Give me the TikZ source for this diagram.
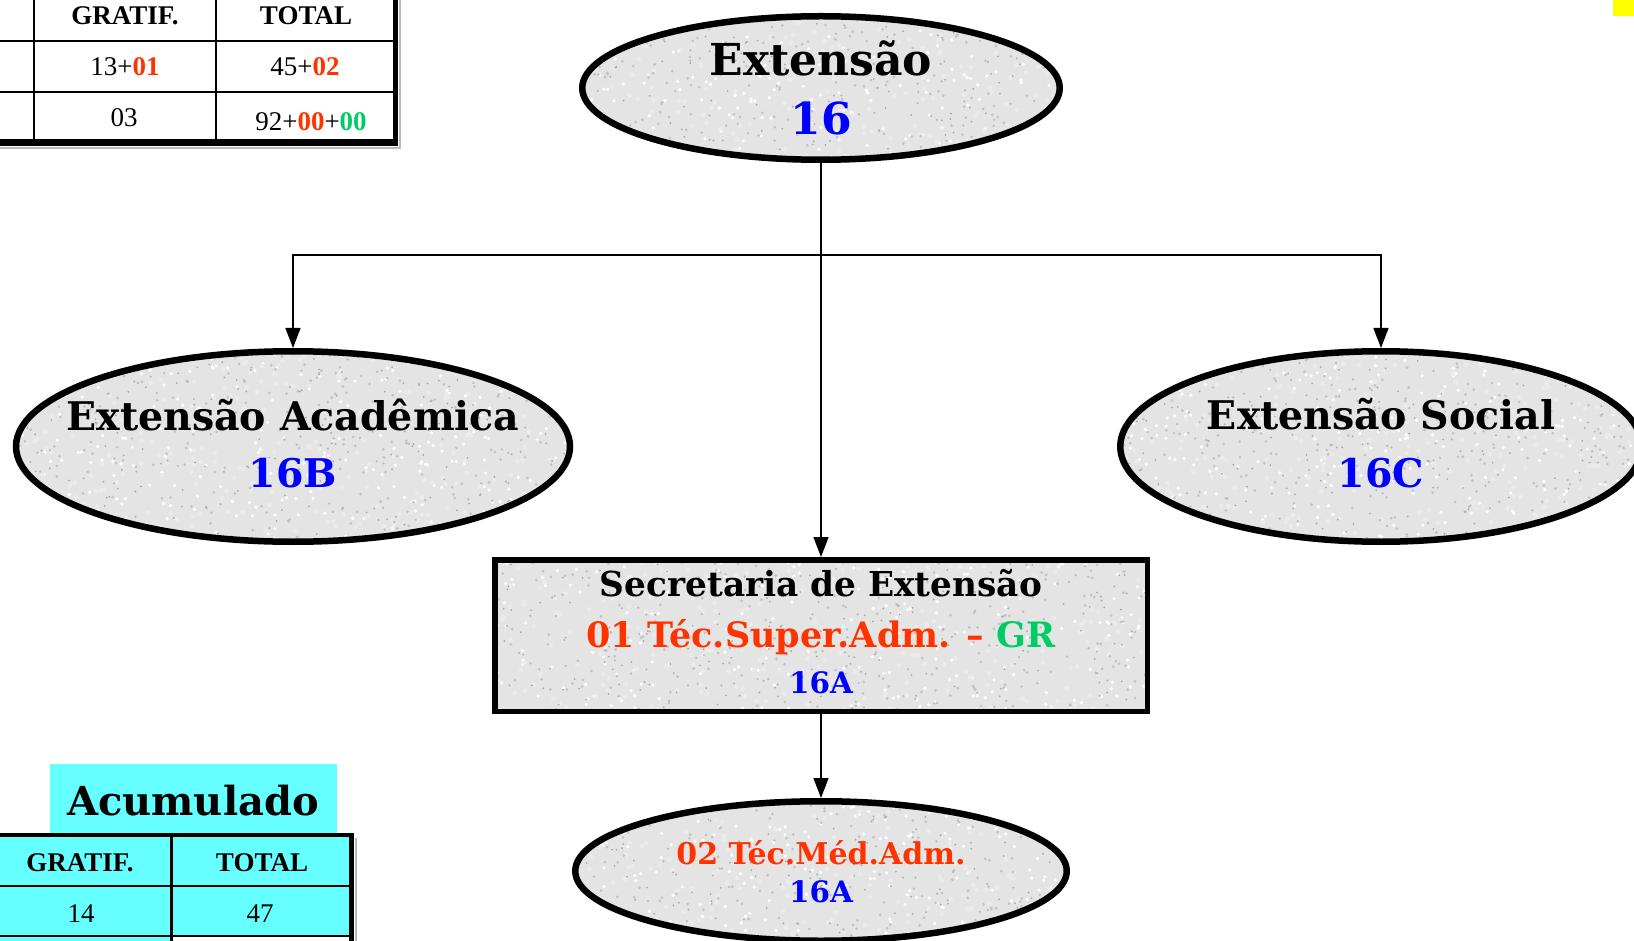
\documentclass[tikz,border=0pt]{standalone}
\usepackage{fontspec}
\setmainfont{Liberation Serif}
\newfontfamily\bk{DejaVu Serif}
\usetikzlibrary{shapes.geometric,arrows.meta}
\definecolor{cred}{HTML}{FF3300}
\definecolor{cgreen}{HTML}{00CC66}
\definecolor{cblue}{HTML}{0000FF}
\definecolor{ccyan}{HTML}{66FFFF}
\definecolor{cyellow}{HTML}{FFFF00}
\definecolor{cstone}{HTML}{E4E4E4}
\tikzset{
  stone/.style n args={3}{fill=cstone, draw=black, inner sep=0pt,
    path picture={
      \pgfmathsetseed{#1}
      \begin{scope}[shift={(path picture bounding box.center)}]
        \fill[white] \foreach \k in {1,...,#1}{ ({rand*#2},{rand*#3}) circle[radius=1.8] };
        \fill[black!8!white] \foreach \k in {1,...,#1}{ ({rand*#2},{rand*#3}) circle[radius=2.4] };
        \fill[black!24!white] \foreach \k in {1,...,#1}{ ({rand*#2},{rand*#3}) circle[radius=1.5] };
        \fill[black!34!white] \foreach \k in {1,...,#1}{ ({rand*#2},{rand*#3}) circle[radius=1.0] };
      \end{scope}}},
  oval/.style={ellipse, line width=6.5pt},
  box/.style={rectangle, line width=5.5pt},
  conn/.style={line width=1.5pt, -{Triangle[length=20pt,width=15pt]}},
  bigtxt/.style={anchor=base, font=\bk\bfseries\fontsize{#1}{#1}\selectfont},
  tabhead/.style={anchor=base, font=\bfseries\fontsize{27}{30}\selectfont},
  tabnum/.style={anchor=base, font=\fontsize{27}{30}\selectfont},
  gridline/.style={line width=2.5pt},
}
\begin{document}
\begin{tikzpicture}[x=1pt,y=-1pt]
\useasboundingbox[fill=white] (0,0) rectangle (1634,941);

% yellow mark
\fill[cyellow] (1613,0) rectangle (1634,16);

% ---- top-left table ----
\draw[gray!55, line width=2pt] (399.5,0) -- (399.5,148.5) -- (0,148.5);
\draw[gridline] (0,41) -- (395,41);
\draw[gridline] (0,92) -- (395,92);
\draw[gridline] (34,0) -- (34,143);
\draw[gridline] (216,0) -- (216,143);
\draw[line width=5pt] (395,0) -- (395,146.5);
\draw[line width=7pt] (0,143) -- (397.5,143);
\node[tabhead] (h1) at (125,25) {GRATIF.};
\node[tabhead] (h2) at (306,25) {TOTAL};
\node[tabnum] (a1) at (125,76) {13+\textbf{\color{cred}01}};
\node[tabnum] (a2) at (305,76) {45+\textbf{\color{cred}02}};
\node[tabnum] (b1) at (124,127) {03};
\node[tabnum] (b2) at (311,131) {92+\textbf{\color{cred}00}+\textbf{\color{cgreen}00}};

% ---- bottom-left accumulated table ----
\node[fill=ccyan, minimum width=287pt, minimum height=70pt, inner sep=0pt] (accbox) at (193.5,799) {};
\node[bigtxt=40] (acc) at (193,815) {Acumulado};
\fill[ccyan] (0,835) rectangle (351,941);
\fill[white] (172,937) rectangle (349,941);
\draw[gray!55, line width=2pt] (355.5,838) -- (355.5,941);
\draw[gridline] (0,886) -- (351,886);
\draw[gridline] (0,936) -- (351,936);
\draw[line width=3pt] (171,835) -- (171,941);
\draw[line width=5pt] (351,833) -- (351,941);
\draw[line width=4.5pt] (0,835) -- (353.5,835);
\node[tabhead] (g1) at (80,871) {GRATIF.};
\node[tabhead] (g2) at (262,871) {TOTAL};
\node[tabnum] (n1) at (81,922) {14};
\node[tabnum] (n2) at (260,922) {47};

% ---- org chart nodes ----
\node[stone={170}{240}{73}, oval, minimum width=477.5pt, minimum height=143.5pt] (ext) at (821,88) {};
\node[bigtxt=44] (extT) at (821,76) {Extensão};
\node[bigtxt=44, text=cblue] (extN) at (821,135) {16};

\node[stone={260}{278}{96}, oval, minimum width=554pt, minimum height=190.5pt] (acad) at (293,446.5) {};
\node[bigtxt=39.5] (acadT) at (293,430) {Extensão Acadêmica};
\node[bigtxt=39.5, text=cblue] (acadN) at (293,487) {16B};

\node[stone={250}{262}{96}, oval, minimum width=521.5pt, minimum height=190.5pt] (soc) at (1381,446.5) {};
\node[bigtxt=39.5] (socT) at (1381,429) {Extensão Social};
\node[bigtxt=39.5, text=cblue] (socN) at (1381,487) {16C};

\node[stone={240}{327}{76}, box, minimum width=652.5pt, minimum height=151.5pt] (sec) at (821,635.5) {};
\node[bigtxt=34.3] (secT) at (821,596) {Secretaria de Extensão};
\node[bigtxt=35, text=cred] (secS) at (821,647) {01 Téc.Super.Adm. – {\color{cgreen}GR}};
\node[bigtxt=29.5, text=cblue] (secN) at (821,693) {16A};

\node[stone={171}{247}{72}, oval, minimum width=491.5pt, minimum height=139.5pt] (med) at (821,871) {};
\node[bigtxt=30, text=cred] (medT) at (821,864) {02 Téc.Méd.Adm.};
\node[bigtxt=29.5, text=cblue] (medN) at (821,902) {16A};

% ---- connectors ----
\coordinate (br) at (821,255);
\draw[conn] (ext.south) -- (sec.north);
\draw[conn] (br) -| (acad.north);
\draw[conn] (br) -| (soc.north);
\draw[conn] (sec.south) -- (med.north);
\end{tikzpicture}
\end{document}
